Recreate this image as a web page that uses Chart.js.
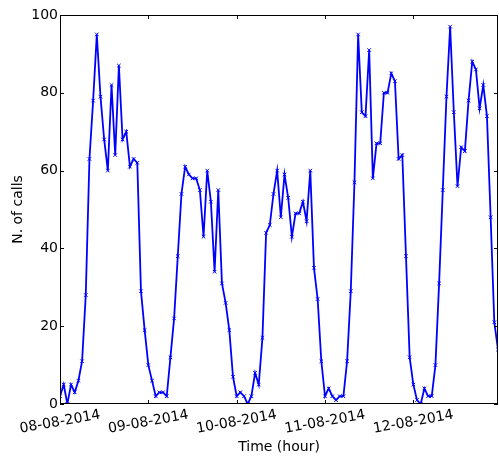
<!DOCTYPE html>
<html>
<head>
<meta charset="utf-8">
<script src="https://cdn.jsdelivr.net/npm/chart.js@4.4.1/dist/chart.umd.min.js"></script>
<style>
  html, body { margin: 0; padding: 0; background: #fff; }
  #wrap { width: 499px; height: 458px; }
</style>
</head>
<body>
<div id="wrap"><canvas id="calls"></canvas></div>
<script>
// Hourly call counts, 08-08-2014 00:00 .. 12-08-2014 23:00
const callsDay1 = [2, 5, 0, 5, 3, 6, 11, 28, 63, 78, 95, 79, 68, 60, 82, 64, 87, 68, 70, 61, 63, 62, 29, 19];
const callsDay2 = [10, 6, 2, 3, 3, 2, 12, 22, 38, 54, 61, 59, 58, 58, 55, 43, 60, 52, 34, 55, 31, 26, 19, 7];
const callsDay3 = [2, 3, 2, 0, 2, 8, 5, 17, 44, 46, 54, 60, 48, 59, 53, 43, 49, 49, 52, 47, 60, 35, 27, 11];
const callsDay4 = [2, 4, 2, 1, 2, 2, 11, 29, 57, 95, 75, 74, 91, 58, 67, 67, 80, 80, 85, 83, 63, 64, 38, 12];
const callsDay5 = [5, 1, 0, 4, 2, 2, 10, 31, 55, 79, 97, 75, 56, 66, 65, 78, 88, 86, 76, 82, 74, 48, 21, 14];

const dayLabels = ['08-08-2014', '09-08-2014', '10-08-2014', '11-08-2014', '12-08-2014'];
const dayTicks = [0, 24, 48, 72, 96];
const yTicks = [0, 20, 40, 60, 80, 100];

const calls = [...callsDay1, ...callsDay2, ...callsDay3, ...callsDay4, ...callsDay5];

const FONT = '"DejaVu Sans", sans-serif';

// Cadre façon matplotlib : bordure + graduations vers l'intérieur
const framePlugin = {
    id: 'frame',
    afterDatasetsDraw(chart) {
        const { ctx, chartArea: a, scales } = chart;
        ctx.save();
        ctx.strokeStyle = '#000';
        ctx.lineWidth = 1;
        ctx.strokeRect(a.left + 0.5, a.top + 0.5, a.right - a.left - 1, a.bottom - a.top - 1);
        ctx.beginPath();
        dayTicks.forEach(v => {
            const x = Math.round(scales.x.getPixelForValue(v)) + 0.5;
            ctx.moveTo(x, a.bottom); ctx.lineTo(x, a.bottom - 4);
            ctx.moveTo(x, a.top); ctx.lineTo(x, a.top + 4);
        });
        yTicks.forEach(v => {
            const y = Math.round(scales.y.getPixelForValue(v)) + 0.5;
            ctx.moveTo(a.left, y); ctx.lineTo(a.left + 4, y);
            ctx.moveTo(a.right, y); ctx.lineTo(a.right - 4, y);
        });
        ctx.stroke();
        ctx.restore();
    },
    afterDraw(chart) {
        // étiquettes de date inclinées, centrées sur la graduation
        const { ctx, scales } = chart;
        ctx.save();
        ctx.fillStyle = '#000';
        ctx.font = '14px ' + FONT;
        ctx.textAlign = 'center';
        ctx.textBaseline = 'middle';
        dayTicks.forEach((v, i) => {
            const x = scales.x.getPixelForValue(v);
            ctx.save();
            ctx.translate(x, 422);
            ctx.rotate(-10 * Math.PI / 180);
            ctx.fillText(dayLabels[i], 0, 0);
            ctx.restore();
        });
        ctx.restore();
    }
};

new Chart(document.getElementById('calls'), {
    type: 'line',
    data: {
        datasets: [{
            data: calls.map((v, i) => ({ x: i, y: v })),
            borderColor: '#0000ff',
            backgroundColor: '#0000ff',
            borderWidth: 1.8,
            pointStyle: 'crossRot',
            pointRadius: 2.5,
            pointBorderWidth: 1,
            pointBorderColor: '#0000ff',
            tension: 0,
            fill: false
        }]
    },
    options: {
        responsive: true,
        maintainAspectRatio: false,
        animation: false,
        devicePixelRatio: 1,
        layout: { autoPadding: false, padding: { top: 15, right: 1, left: 0, bottom: 0 } },
        plugins: {
            legend: { display: false },
            tooltip: { enabled: false }
        },
        scales: {
            x: {
                type: 'linear',
                min: 0,
                max: calls.length - 1,
                grid: { display: false },
                border: { display: false },
                ticks: { display: false },
                afterBuildTicks: (scale) => {
                    scale.ticks = dayTicks.map(v => ({ value: v }));
                },
                afterFit: (scale) => { scale.height = 54; },
                title: {
                    display: true,
                    text: 'Time (hour)',
                    color: '#000',
                    font: { family: FONT, size: 14 },
                    padding: { top: 0, bottom: 2 }
                }
            },
            y: {
                min: 0,
                max: 100,
                grid: { display: false, drawTicks: false },
                border: { display: false },
                afterBuildTicks: (scale) => {
                    scale.ticks = yTicks.map(v => ({ value: v }));
                },
                ticks: {
                    color: '#000',
                    padding: 2,
                    font: { family: FONT, size: 14 }
                },
                afterFit: (scale) => { scale.width = 60; },
                title: {
                    display: true,
                    text: 'N. of calls',
                    color: '#000',
                    font: { family: FONT, size: 14 },
                    padding: { top: 10, bottom: 0 }
                }
            }
        }
    },
    plugins: [framePlugin]
});
</script>
</body>
</html>
